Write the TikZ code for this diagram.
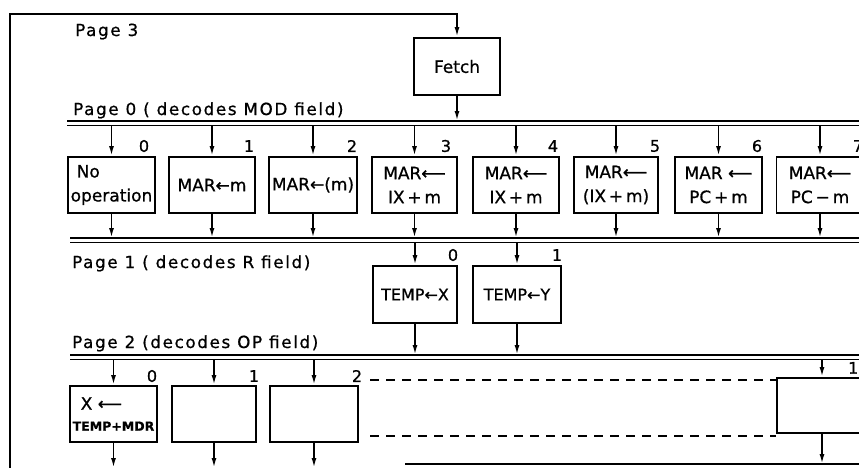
\documentclass[tikz,border=0pt]{standalone}
\usepackage{fontspec}
\setmainfont[FakeBold=0.8]{DejaVu Sans}
\newfontfamily\spacedfont[LetterSpace=10,FakeBold=0.8]{DejaVu Sans}
\usetikzlibrary{arrows.meta}
\begin{document}
\begin{tikzpicture}[x=1pt,y=-1pt,
  blk/.style={draw, line width=1.9pt, inner sep=0pt, font=\fontsize{17}{24}\selectfont, align=center},
  wh/.style 2 args={minimum width=#1pt, minimum height=#2pt},
  arr/.style={line width=1.8pt, -{Latex[length=10pt,width=5pt]}},
  busln/.style={line width=1.8pt},
  num/.style={font=\fontsize{16}{18}\selectfont, inner sep=0pt},
  pg/.style={font=\spacedfont\fontsize{16.7}{18}\selectfont, anchor=base west, inner sep=0pt},
  dsh/.style={line width=1.8pt, dash pattern=on 9pt off 7pt}]

\useasboundingbox (0,0) rectangle (859,467);

% page labels
\node[pg] (l3) at (75,36) {Page 3};
\node[pg] (l0) at (73,115) {Page 0 ( decodes MOD field)};
\node[pg] (l1) at (72,268) {Page 1 ( decodes R field)};
\node[pg] (l2) at (72,348) {Page 2 (decodes OP field)};

% fetch
\node[blk, wh={86}{57}] (fetch) at (457,66.5) {Fetch};

% bus coordinates
\coordinate (b0u) at (0,121); \coordinate (b0l) at (0,125);
\coordinate (b1u) at (0,238); \coordinate (b1l) at (0,242);
\coordinate (b2u) at (0,355); \coordinate (b2l) at (0,359);
\coordinate (bot) at (0,468); \coordinate (botl) at (0,464);

\draw[busln] (67,121) -- (870,121);
\draw[busln] (67,125.5) -- (870,125.5);
\draw[busln] (70,238) -- (870,238);
\draw[busln] (70,242.5) -- (870,242.5);
\draw[busln] (70,355) -- (870,355);
\draw[busln] (70,359.5) -- (870,359.5);
\draw[busln] (405,464) -- (870,464);

% loop back
\coordinate (ls) at (10,470);
\coordinate (lc) at (10,14);
\draw[arr] (ls) -- (lc) -| (fetch.north);
\draw[arr] (fetch.south) -- (fetch.south |- b0u);

% page 0 boxes
\node[blk, wh={87}{56}, align=left] (m0) at (111.5,185) {\hspace{6pt}No\\operation};
\node[blk, wh={86}{56}] (m1) at (212,185) {MAR←m};
\node[blk, wh={88}{56}] (m2) at (313,185) {MAR←(m)};
\node[blk, wh={85}{56}] (m3) at (414.5,185) {MAR⟵\\IX\,+\,m};
\node[blk, wh={86}{56}] (m4) at (516,185) {MAR⟵\\IX\,+\,m};
\node[blk, wh={84}{56}] (m5) at (616,185) {MAR⟵\\(IX\,+\,m)};
\node[blk, wh={87}{56}] (m6) at (718.5,185) {MAR ⟵\\PC\,+\,m};
\node[blk, wh={87}{56}] (m7) at (820,185) {MAR⟵\\PC\,−\,m};

\foreach \i in {0,...,7} {
  \draw[arr] (m\i.north |- b0l) -- (m\i.north);
  \draw[arr] (m\i.south) -- (m\i.south |- b1u);
}

\node[num] (n0) at (144,146) {0};
\node[num] (n1) at (249,146) {1};
\node[num] (n2) at (352,146) {2};
\node[num] (n3) at (446,146) {3};
\node[num] (n4) at (553,146) {4};
\node[num] (n5) at (655,146) {5};
\node[num] (n6) at (757,146) {6};
\node[num] (n7) at (858,146) {7};

% page 1 boxes
\node[blk, wh={84}{57}, font=\fontsize{16}{20}\selectfont] (t0) at (415,294.5) {TEMP←X};
\node[blk, wh={88}{57}, font=\fontsize{16}{20}\selectfont] (t1) at (517,294.5) {TEMP←Y};
\foreach \i in {0,1} {
  \draw[arr] (t\i.north |- b1l) -- (t\i.north);
  \draw[arr] (t\i.south) -- (t\i.south |- b2u);
}
\node[num] (r0) at (453,255) {0};
\node[num] (r1) at (557,255) {1};

% page 2 boxes
\node[blk, wh={87}{56}, align=left] (p0) at (113.5,414) {\hspace{8pt}X ⟵\\[-3pt]{\bfseries\fontsize{12.5}{14}\selectfont TEMP+MDR}};
\node[blk, wh={84}{56}] (p1) at (214,414) {};
\node[blk, wh={88}{56}] (p2) at (314,414) {};
\node[blk, wh={90}{55}] (p15) at (822,405.5) {};

\foreach \i in {0,1,2} {
  \draw[arr] (p\i.north |- b2l) -- (p\i.north);
  \draw[arr] (p\i.south) -- (p\i.south |- bot);
}
\draw[arr] (p15.north |- b2l) -- (p15.north);
\draw[arr] (p15.south) -- (p15.south |- botl);

\node[num] (q0) at (152,376) {0};
\node[num] (q1) at (254,376) {1};
\node[num] (q2) at (357,376) {2};
\node[num, anchor=west] (q15) at (848,368) {15};

% dashed continuation
\coordinate (d1) at (370,380);
\coordinate (d2) at (370,436);
\draw[dsh] (d1) -- (d1 -| p15.west);
\draw[dsh] (d2) -- (d2 -| p15.west);
\end{tikzpicture}
\end{document}
